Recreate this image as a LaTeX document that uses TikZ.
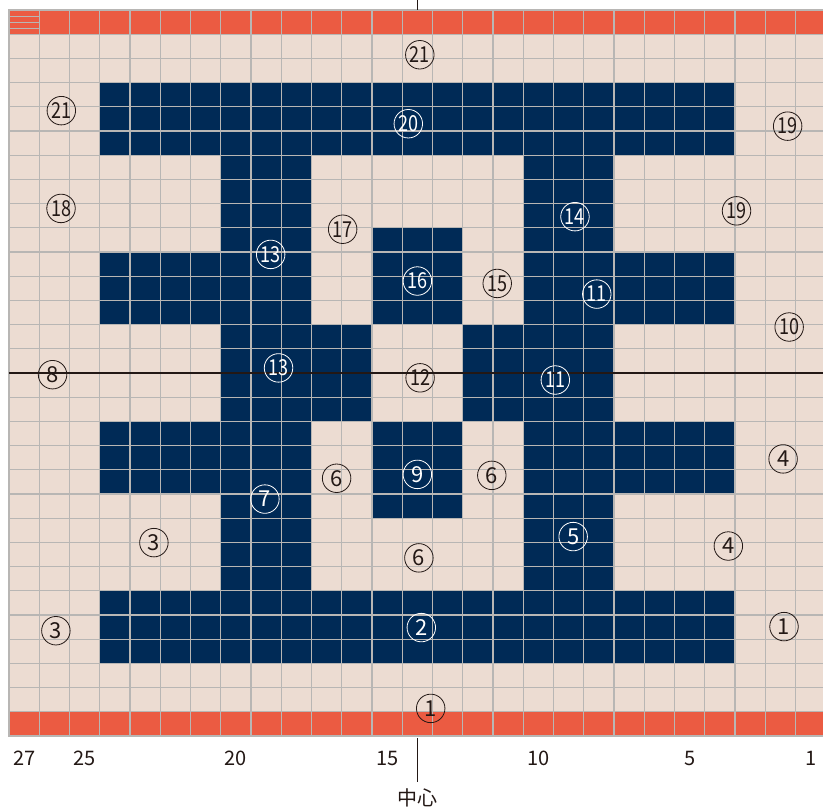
\documentclass[tikz,border=0pt]{standalone}
\usepackage{fontspec}
\usepackage{graphicx}
\setmainfont{Noto Sans CJK JP}
\definecolor{beigec}{HTML}{ECDCD2}
\definecolor{redc}{HTML}{EB5B42}
\definecolor{navyc}{HTML}{002A56}
\definecolor{gridc}{HTML}{B8B6B4}
\definecolor{inkc}{HTML}{231815}
\newcommand\twod[1]{\scalebox{0.82}[1]{#1}}
\begin{document}
\begin{tikzpicture}[x=30.25pt,y=24.2pt,
  numc/.style={circle,draw=inkc,text=inkc,line width=0.8pt,minimum size=28.5pt,inner sep=0pt,font=\fontsize{22}{22}\selectfont},
  numw/.style={numc,draw=white,text=white},
  collab/.style={font=\fontsize{20}{20}\selectfont,text=inkc,inner sep=0pt},
  gridline/.style={draw=gridc,line width=1.1pt}]
\useasboundingbox (-0.2975,-2.975) rectangle (26.909,30.413);
% ground
\fill[beigec] (0,0) rectangle (27,30);
\fill[redc] (0,0) rectangle (27,1);
\fill[redc] (0,29) rectangle (27,30);
% pattern
\foreach \a/\b/\c/\d in {3/24/24/27, 3/3/24/6, 7/6/10/24, 17/6/20/24, 3/17/7/20, 3/10/7/13, 20/17/24/20, 20/10/24/13, 12/17/15/21, 12/9/15/13, 10/13/12/17, 15/13/17/17}
  \fill[navyc] (\a,\b) rectangle (\c,\d);
% grid
\foreach \i in {0,...,27} \draw[gridline] (\i,0) -- (\i,30);
\foreach \j in {0,...,30} \draw[gridline] (0,\j) -- (27,\j);
\draw[gridc,line width=0.8pt] (0,29.25) -- (1,29.25) (0,29.5) -- (1,29.5) (0,29.75) -- (1,29.75);
\draw[gridc,line width=1.6pt] (0,0) rectangle (27,30);
% centre lines
\coordinate (hl) at (0,15);
\coordinate (hr) at (27,15);
\draw[inkc,line width=1.2pt] (hl) -- (hr);
\coordinate (ct1) at (13.5,30);
\coordinate (ct2) at (13.5,30.5);
\draw[inkc,line width=0.9pt] (ct1) -- (ct2);
\coordinate (cb1) at (13.5,-0.08);
\coordinate (cb2) at (13.5,-1.89);
\draw[inkc,line width=0.9pt] (cb1) -- (cb2);
% numbers in circles
\node[numc] (c21a) at (13.58,28.15) {\twod{21}};
\node[numc] (c21b) at (1.73,25.84) {\twod{21}};
\node[numw] (c20) at (13.2,25.3) {\twod{20}};
\node[numc] (c19a) at (25.74,25.2) {\twod{19}};
\node[numc] (c18) at (1.72,21.8) {\twod{18}};
\node[numw] (c14) at (18.71,21.46) {\twod{14}};
\node[numc] (c19b) at (24.05,21.7) {\twod{19}};
\node[numc] (c17) at (11.03,20.94) {\twod{17}};
\node[numw] (c13a) at (8.65,19.9) {\twod{13}};
\node[numw] (c16) at (13.5,18.8) {\twod{16}};
\node[numc] (c15) at (16.14,18.7) {\twod{15}};
\node[numw] (c11a) at (19.43,18.26) {\twod{11}};
\node[numc] (c10) at (25.79,16.9) {\twod{10}};
\node[numc] (c8) at (1.44,14.93) {8};
\node[numw] (c13b) at (8.91,15.21) {\twod{13}};
\node[numc] (c12) at (13.59,14.8) {\twod{12}};
\node[numw] (c11b) at (18.06,14.71) {\twod{11}};
\node[numc] (c4a) at (25.59,11.45) {4};
\node[numc] (c6a) at (10.83,10.65) {6};
\node[numw] (c9) at (13.5,10.81) {9};
\node[numc] (c6b) at (15.96,10.77) {6};
\node[numw] (c7) at (8.46,9.79) {7};
\node[numw] (c5) at (18.65,8.24) {5};
\node[numc] (c4b) at (23.78,7.85) {4};
\node[numc] (c3a) at (4.79,7.99) {3};
\node[numc] (c6c) at (13.55,7.36) {6};
\node[numc] (c3b) at (1.55,4.35) {3};
\node[numw] (c2) at (13.63,4.48) {2};
\node[numc] (c1a) at (25.62,4.52) {1};
\node[numc] (c1b) at (13.94,1.14) {1};
% column numbers
\node[collab] (l27) at (0.5,-0.93) {27};
\node[collab] (l25) at (2.5,-0.93) {25};
\node[collab] (l20) at (7.5,-0.93) {20};
\node[collab] (l15) at (12.5,-0.93) {15};
\node[collab] (l10) at (17.5,-0.93) {10};
\node[collab] (l5) at (22.5,-0.93) {5};
\node[collab] (l1) at (26.5,-0.93) {1};
\node[collab] (ctr) at (13.5,-2.54) {中心};
\end{tikzpicture}
\end{document}
